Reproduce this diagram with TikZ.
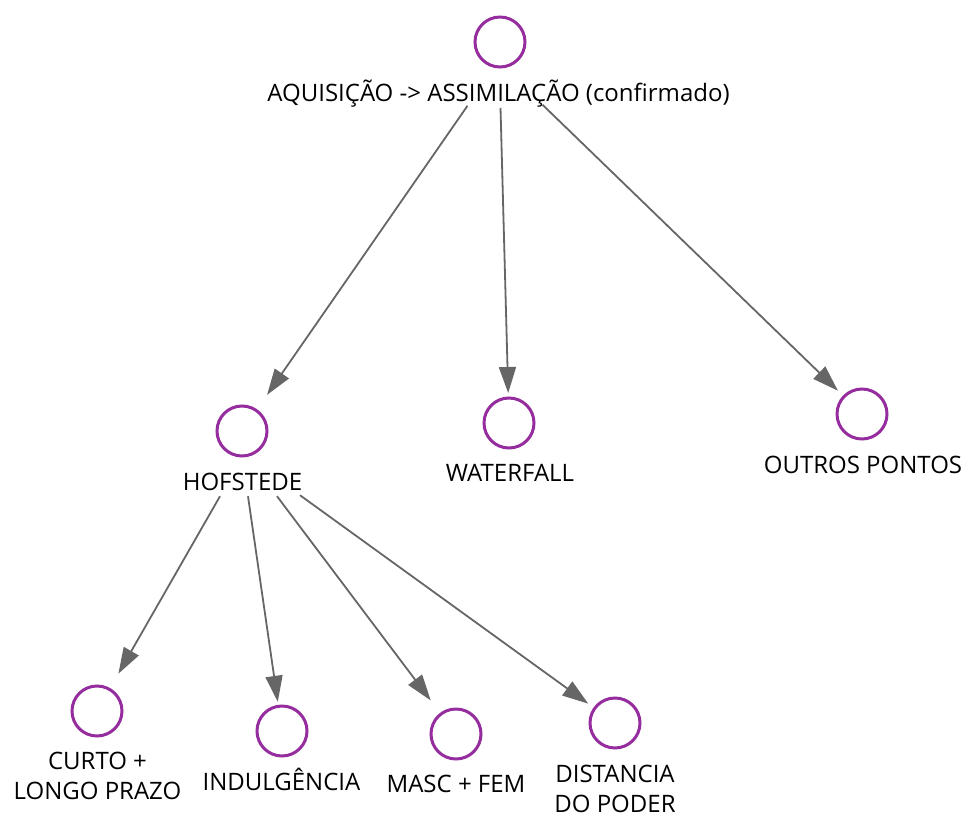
\documentclass[tikz,border=0pt]{standalone}
\usepackage{fontspec}
\setmainfont{Open Sans}
\usetikzlibrary{arrows.meta,calc}
\definecolor{circ}{HTML}{962D9E}
\definecolor{arrgray}{HTML}{666666}
\tikzset{
  dot/.style={circle,draw=circ,line width=3pt,minimum size=50pt,inner sep=0pt,outer sep=0pt},
  lab/.style={inner sep=0pt,outer sep=0pt,font=\fontsize{24}{30}\selectfont,text=black,align=center},
  arr/.style={draw=arrgray,line width=1.8pt,-{Triangle[length=26pt,width=17pt]}}
}
\begin{document}
\begin{tikzpicture}[x=1pt,y=-1pt]
\useasboundingbox (0,0) rectangle (963,813);
% circles
\node[dot] (ctop) at (500,42) {};
\node[dot] (chof) at (242,431) {};
\node[dot] (cwat) at (509,423) {};
\node[dot] (cout) at (862,414) {};
\node[dot] (ccur) at (97,711) {};
\node[dot] (cind) at (282,731) {};
\node[dot] (cmas) at (456,734) {};
\node[dot] (cdis) at (615,723) {};
% labels
\node[lab,anchor=base] (ltop) at (498.5,102) {AQUISIÇÃO -> ASSIMILAÇÃO (confirmado)};
\node[lab,anchor=base] (lhof) at (242.5,490) {HOFSTEDE};
\node[lab,anchor=base] (lwat) at (510,481) {WATERFALL};
\node[lab,anchor=base] (lout) at (863,473) {OUTROS PONTOS};
\node[lab,anchor=north] (lcur) at (97.5,752) {CURTO +\\LONGO PRAZO};
\node[lab,anchor=base] (lind) at (281.5,790) {INDULGÊNCIA};
\node[lab,anchor=base] (lmas) at (456,792) {MASC + FEM};
\node[lab,anchor=north] (ldis) at (615,765) {DISTANCIA\\DO PODER};
% connectors
\draw[arr,shorten >=19pt] ($(ltop.south)+(-31,-2)$) -- (chof);
\draw[arr,shorten >=5pt] ($(ltop.south)+(2,0)$) -- (cwat);
\draw[arr,shorten >=8.5pt] ($(ltop.south)+(44,-3)$) -- (cout);
\draw[arr,shorten >=18pt] ($(lhof.south)+(-22.5,6)$) -- (ccur);
\draw[arr,shorten >=4.5pt] ($(lhof.south)+(5.5,6)$) -- (cind);
\draw[arr,shorten >=17pt] ($(lhof.south)+(34.5,6)$) -- (cmas);
\draw[arr,shorten >=8pt] ($(lhof.south)+(57.5,5)$) -- (cdis);
\end{tikzpicture}
\end{document}
